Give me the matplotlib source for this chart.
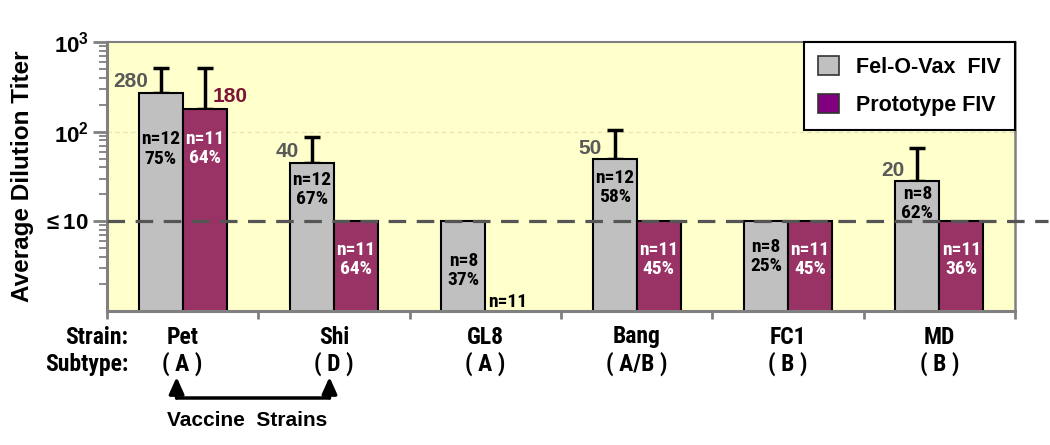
import numpy as np
import matplotlib
matplotlib.use("Agg")
import matplotlib.pyplot as plt
import matplotlib.transforms as mtrans
from matplotlib.patches import Patch
from matplotlib.ticker import FixedLocator, LogLocator, NullFormatter, FixedFormatter

# ---------------- data ----------------
strains = ["Pet", "Shi", "GL8", "Bang", "FC1", "MD"]
subtypes = ["( A )", "( D )", "( A )", "( A/B )", "( B )", "( B )"]
felovax = [270, 45, 10, 49, 10, 28]
felovax_err_top = [515, 88, np.nan, 105, np.nan, 66]
prototype = [180, 10, np.nan, 10, 10, 10]
prototype_err_top = [515, np.nan, np.nan, np.nan, np.nan, np.nan]
felovax_value_labels = ["280", "40", "", "50", "", "20"]
prototype_value_labels = ["180", "", "", "", "", ""]
felovax_n = ["n=12", "n=12", "n=8", "n=12", "n=8", "n=8"]
felovax_pct = ["75%", "67%", "37%", "58%", "25%", "62%"]
prototype_n = ["n=11", "n=11", "n=11", "n=11", "n=11", "n=11"]
prototype_pct = ["64%", "64%", "", "45%", "45%", "36%"]
series_names = ["Fel-O-Vax  FIV", "Prototype FIV"]
threshold = 10

# ---------------- style ----------------
plt.rcParams["font.family"] = ["Liberation Sans", "DejaVu Sans"]
plt.rcParams["mathtext.fontset"] = "custom"
plt.rcParams["mathtext.rm"] = "Liberation Sans:bold"
plt.rcParams["mathtext.bf"] = "Liberation Sans:bold"
plt.rcParams["mathtext.default"] = "bf"
NARROW = ["Roboto Condensed", "PT Sans Narrow", "Liberation Sans", "DejaVu Sans"]

GRAY = "#c0c0c0"
PURPLE = "#993366"
BG = "#ffffcc"
AX_GRAY = "#808080"
LBL_GRAY = "#595959"
MAROON = "#7a1538"

PX = 72 / 100.0  # points per pixel

fig = plt.figure(figsize=(10.5, 4.45), dpi=100)
ax = fig.add_axes([107 / 1050, 1 - 311 / 445, (1015 - 107) / 1050, (311 - 42) / 445])
ax.set_facecolor(BG)
ax.set_yscale("log")
ax.set_ylim(1, 1000)
ax.set_xlim(-0.5, len(strains) - 0.5)

x = np.arange(len(strains))
w = 0.29
xg = x - w / 2
xp = x + w / 2

ax.axhline(100, color="#e6e2b8", lw=0.8, ls=(0, (4, 3)), zorder=0.5)

ax.bar(xg, felovax, width=w, color=GRAY, edgecolor="black", linewidth=1.5, zorder=2)
ax.bar(xp, prototype, width=w, color=PURPLE, edgecolor="black", linewidth=1.5, zorder=2)

# error bars (upper only)
for xs, vals, tops in [(xg, felovax, felovax_err_top), (xp, prototype, prototype_err_top)]:
    v = np.array(vals, float)
    t = np.array(tops, float)
    m = ~np.isnan(t)
    ax.errorbar(xs[m], v[m], yerr=[np.zeros(m.sum()), (t - v)[m]], fmt="none",
                ecolor="black", elinewidth=2.5, capsize=6, capthick=2.5, zorder=1.5)

# threshold dashed line (extends beyond the axes on the right)
ax.plot([-0.5, 5.72], [threshold, threshold], color="#555555", lw=2.3,
        dashes=(5.5, 3.3), zorder=3, clip_on=False)

# value labels above bars
for i, lab in enumerate(felovax_value_labels):
    if lab:
        ax.annotate(lab, (xg[i], felovax[i]), xytext=(-13 * PX, 11 * PX),
                    textcoords="offset points", ha="right", va="center",
                    fontsize=15, fontweight="bold", color=LBL_GRAY, zorder=4)
for i, lab in enumerate(prototype_value_labels):
    if lab:
        ax.annotate(lab, (xp[i], prototype[i]), xytext=(8 * PX, 12 * PX),
                    textcoords="offset points", ha="left", va="center",
                    fontsize=15, fontweight="bold", color=MAROON, zorder=4)

# in-bar labels: offset (pixels) of the 2-line block centre below the bar top
g_off = [56, 27, 49, 28, 35, 22]
p_off = [40, 38, 0, 38, 38, 38]
IN_FS = 14
for i in range(len(strains)):
    ax.annotate(felovax_n[i] + "\n" + felovax_pct[i], (xg[i], felovax[i]),
                xytext=(0, -g_off[i] * PX), textcoords="offset points",
                ha="center", va="center", fontsize=IN_FS, fontweight="bold",
                family=NARROW, color="black", linespacing=1.08, zorder=4)
    if np.isnan(prototype[i]):
        ax.annotate(prototype_n[i], (xp[i], 1), xytext=(0, 9 * PX),
                    textcoords="offset points", ha="center", va="center",
                    fontsize=IN_FS, fontweight="bold", family=NARROW, color="black",
                    zorder=4)
    else:
        ax.annotate(prototype_n[i] + "\n" + prototype_pct[i], (xp[i], prototype[i]),
                    xytext=(0, -p_off[i] * PX), textcoords="offset points",
                    ha="center", va="center", fontsize=IN_FS, fontweight="bold",
                    family=NARROW, color="white", linespacing=1.08, zorder=4)

# axes styling
for s in ax.spines.values():
    s.set_color(AX_GRAY)
ax.spines["left"].set_linewidth(2.2)
ax.spines["bottom"].set_linewidth(2.2)
ax.spines["top"].set_linewidth(1.5)
ax.spines["right"].set_linewidth(1.8)

ax.xaxis.set_major_locator(FixedLocator(np.arange(-0.5, len(strains), 1.0)))
ax.xaxis.set_major_formatter(NullFormatter())
ax.tick_params(axis="x", which="major", direction="out", length=6, width=2, color=AX_GRAY)

ax.yaxis.set_major_locator(FixedLocator([10, 100, 1000]))
ax.yaxis.set_major_formatter(FixedFormatter([r"$\leq$10", r"$10^{2}$", r"$10^{3}$"]))
ax.yaxis.set_minor_locator(LogLocator(base=10, subs=np.arange(2, 10)))
ax.yaxis.set_minor_formatter(NullFormatter())
ax.tick_params(axis="y", which="major", direction="out", length=10, width=2,
               color=AX_GRAY, labelsize=16, pad=3)
ax.tick_params(axis="y", which="minor", direction="out", length=6, width=1.3, color=AX_GRAY)
for t in ax.get_yticklabels():
    t.set_fontweight("bold")

ax.set_ylabel("Average Dilution Titer", fontsize=17.5, fontweight="bold", labelpad=6)

# legend
handles = [Patch(facecolor=GRAY, edgecolor="#333333", linewidth=1.2),
           Patch(facecolor="#800080", edgecolor="#333333", linewidth=1.2)]
leg = ax.legend(handles, series_names, loc="upper right", bbox_to_anchor=(1.0, 1.0),
                borderaxespad=0, fancybox=False, framealpha=1, edgecolor="black",
                prop=dict(family="Liberation Sans", weight="bold", size=15.5),
                handlelength=0.95, handleheight=0.95, labelspacing=0.75,
                handletextpad=0.8, borderpad=0.66)
leg.get_frame().set_linewidth(1.5)
leg.set_zorder(6)

# category labels beneath the axis
CAT_FS = 17
yfs = 1 - 337 / 445
yft = 1 - 364 / 445
blend = mtrans.blended_transform_factory(ax.transData, fig.transFigure)
fig.text(128 / 1050, yfs, "Strain:", ha="right", va="center", fontsize=CAT_FS,
         fontweight="bold", family=NARROW)
fig.text(128 / 1050, yft, "Subtype:", ha="right", va="center", fontsize=CAT_FS,
         fontweight="bold", family=NARROW)
for i in range(len(strains)):
    ax.text(x[i], yfs, strains[i], transform=blend, ha="center", va="center",
            fontsize=CAT_FS, fontweight="bold", family=NARROW)
    ax.text(x[i], yft, subtypes[i], transform=blend, ha="center", va="center",
            fontsize=CAT_FS, fontweight="bold", family=NARROW)

# vaccine strains arrows
y_tip = 1 - 377 / 445
y_h = 1 - 398 / 445
xa, xb = x[0] - 0.04, x[1] - 0.03
for xx in (xa, xb):
    ax.annotate("", xy=(xx, y_tip), xycoords=blend, xytext=(xx, y_h), textcoords=blend,
                arrowprops=dict(arrowstyle="-|>,head_length=1.0,head_width=0.45",
                                color="black", lw=2.5, shrinkA=0, shrinkB=0),
                annotation_clip=False)
ax.annotate("", xy=(xa, y_h), xycoords=blend, xytext=(xb, y_h), textcoords=blend,
            arrowprops=dict(arrowstyle="-", color="black", lw=2.5, shrinkA=0, shrinkB=0),
            annotation_clip=False)
ax.text((xa + xb) / 2 - 0.04, 1 - 420 / 445, "Vaccine  Strains", transform=blend,
        ha="center", va="center", fontsize=15, fontweight="bold")

fig.savefig("out.png", dpi=100, facecolor="white")
